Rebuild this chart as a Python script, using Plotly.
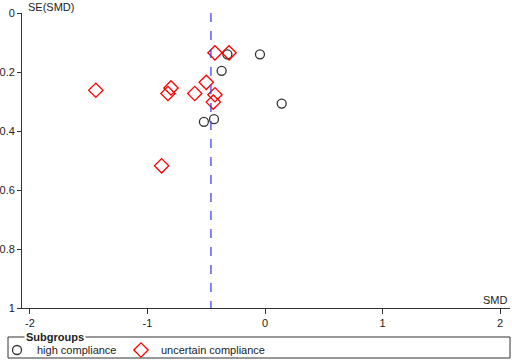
import plotly.graph_objects as go

# Data
high_smd = [-0.32, -0.043, -0.369, 0.142, -0.52, -0.434]
high_se = [0.140, 0.140, 0.196, 0.307, 0.369, 0.360]
unc_smd = [-0.426, -0.306, -1.44, -0.80, -0.826, -0.598, -0.50, -0.426, -0.44, -0.88]
unc_se = [0.135, 0.135, 0.262, 0.254, 0.273, 0.273, 0.235, 0.277, 0.302, 0.518]
pooled_smd = -0.46
x_ticks = [-2, -1, 0, 1, 2]
y_ticks = [0, 0.2, 0.4, 0.6, 0.8, 1]

W, H = 512, 363
L, R, T, B = 22, 2, 13, 55
pw = W - L - R
ph = H - T - B

def px_x(p):
    return (p - L) / pw

def px_y(p):
    return (H - B - p) / ph

fig = go.Figure()
fig.add_trace(go.Scatter(
    x=high_smd, y=high_se, mode="markers", name="high compliance", legend="legend",
    marker=dict(symbol="circle-open", size=9, color="#333333", line=dict(width=1.3)),
))
fig.add_trace(go.Scatter(
    x=unc_smd, y=unc_se, mode="markers", name="uncertain compliance", legend="legend2",
    marker=dict(symbol="diamond-open", size=11, color="#ff0000", line=dict(width=1.3)),
))
fig.add_trace(go.Scatter(
    x=[pooled_smd, pooled_smd], y=[0, 1], mode="lines", showlegend=False,
    line=dict(color="#3333ee", width=1.2, dash="dash"), hoverinfo="skip",
))

font = dict(family="Liberation Sans, Arial, sans-serif", size=11, color="#222222")
leg_common = dict(orientation="h", y=px_y(350), yanchor="middle", xanchor="left",
                  bgcolor="rgba(0,0,0,0)", itemwidth=30,
                  font=dict(size=11, color="#222222"), itemclick=False)

fig.update_layout(
    width=W, height=H,
    margin=dict(l=L, r=R, t=T, b=B, autoexpand=False),
    paper_bgcolor="white", plot_bgcolor="white",
    font=font,
    showlegend=True,
    legend=dict(x=px_x(-3), **leg_common),
    legend2=dict(x=px_x(121), **leg_common),
    xaxis=dict(
        range=[-2.068, 2.085], tickvals=x_ticks, ticktext=[str(v) for v in x_ticks],
        showgrid=False, zeroline=False, showline=True, linecolor="#333333", linewidth=1,
        ticks="outside", ticklen=5, tickcolor="#333333", automargin=False,
    ),
    yaxis=dict(
        range=[1, 0], tickvals=y_ticks, ticktext=["0", "0.2", "0.4", "0.6", "0.8", "1"],
        showgrid=False, zeroline=False, showline=True, linecolor="#333333", linewidth=1,
        ticks="outside", ticklen=4, tickcolor="#333333", automargin=False,
        ticklabelstandoff=0,
    ),
    shapes=[
        dict(type="rect", xref="paper", yref="paper",
             x0=px_x(8), x1=px_x(510), y0=px_y(358), y1=px_y(337),
             line=dict(color="#333333", width=1), fillcolor="rgba(0,0,0,0)"),
    ],
    annotations=[
        dict(text="SE(SMD)", xref="paper", yref="paper", x=px_x(26), y=px_y(7),
             xanchor="left", yanchor="middle", showarrow=False, font=font),
        dict(text="SMD", xref="paper", yref="paper", x=px_x(510), y=px_y(300),
             xanchor="right", yanchor="middle", showarrow=False, font=font),
        dict(text="<b>Subgroups</b>", xref="paper", yref="paper", x=px_x(24), y=px_y(337),
             xanchor="left", yanchor="middle", showarrow=False, bgcolor="white",
             borderpad=1, font=dict(family="Liberation Sans, Arial, sans-serif", size=11, color="#222222")),
    ],
)

fig.write_html("out.html", config={"displayModeBar": False},
               post_script="document.body.style.margin='0';")
